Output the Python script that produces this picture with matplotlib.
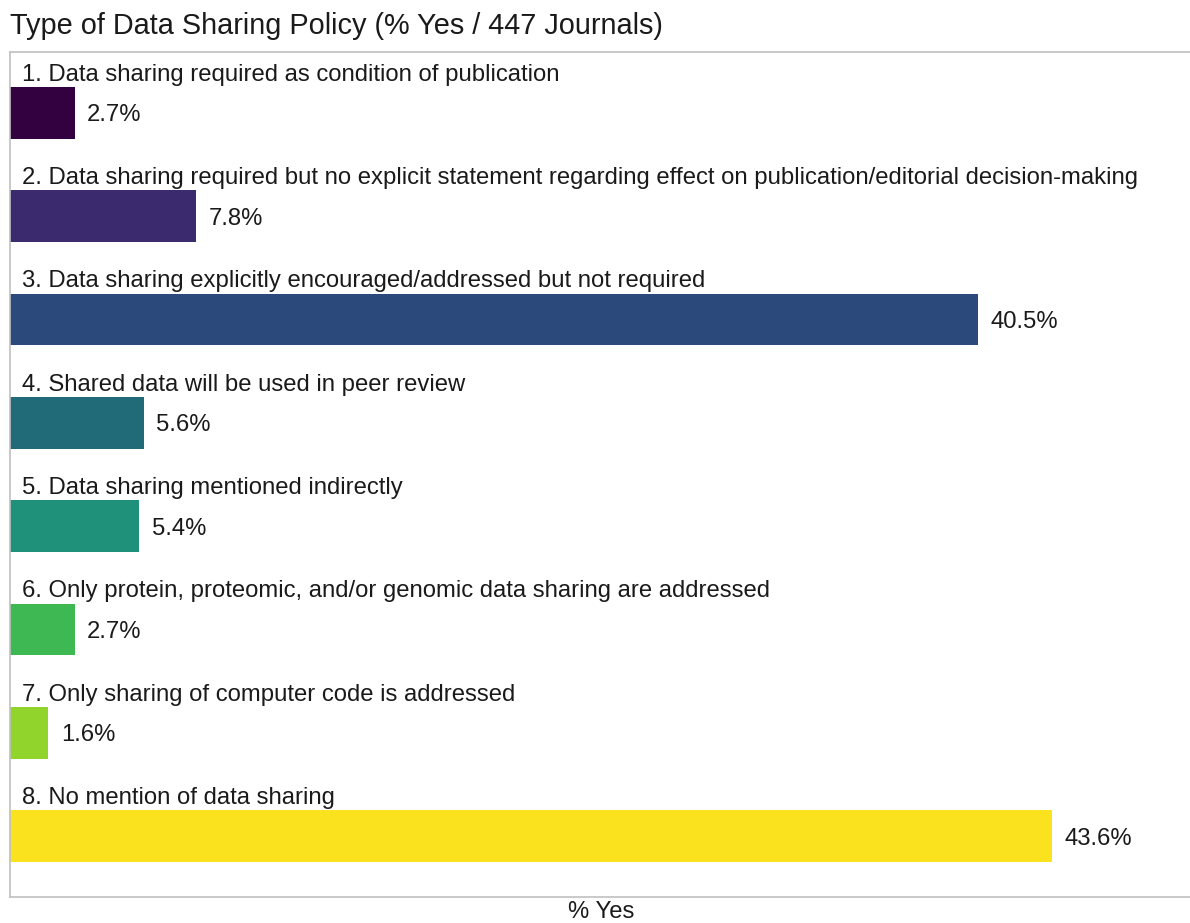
import matplotlib.pyplot as plt
import numpy as np

plt.rcParams['font.family'] = ['Liberation Sans', 'DejaVu Sans']

labels = [
    '1. Data sharing required as condition of publication',
    '2. Data sharing required but no explicit statement regarding effect on publication/editorial decision-making',
    '3. Data sharing explicitly encouraged/addressed but not required',
    '4. Shared data will be used in peer review',
    '5. Data sharing mentioned indirectly',
    '6. Only protein, proteomic, and/or genomic data sharing are addressed',
    '7. Only sharing of computer code is addressed',
    '8. No mention of data sharing',
]
pct = [2.7, 7.8, 40.5, 5.6, 5.4, 2.7, 1.6, 43.6]
colors = ['#33013f', '#3c2a6e', '#2b4a7b', '#216b79', '#1f917b', '#3db852', '#91d42c', '#fae21e']

fig = plt.figure(figsize=(11.9, 9.23), dpi=100)
ax = fig.add_axes([0.0084, 0.0282, 0.9930, 0.9155])

y = np.arange(len(pct))
ax.barh(y, pct, height=0.5, color=colors)

for i, (lab, v) in enumerate(zip(labels, pct)):
    ax.annotate(lab, xy=(0, i - 0.31), xytext=(9, 0), textcoords='offset points',
                va='baseline', ha='left', fontsize=17.2, color='#1a1a1a')
    ax.annotate('%.1f%%' % v, xy=(v, i), xytext=(9, 0), textcoords='offset points',
                va='center_baseline', ha='left', fontsize=17.2, color='#1a1a1a')

ax.set_xlim(0, 49.45)
ax.set_ylim(7.59, -0.59)
ax.set_xticks([])
ax.set_yticks([])
for s in ax.spines.values():
    s.set_color('#c0c0c0')
    s.set_linewidth(1.2)

ax.set_xlabel('% Yes', fontsize=17.2, color='#1a1a1a', labelpad=3)
fig.text(0.008, 0.972, 'Type of Data Sharing Policy (% Yes / 447 Journals)',
         fontsize=20.8, color='#1a1a1a', va='center', ha='left')

fig.savefig('out.png', dpi=100)
